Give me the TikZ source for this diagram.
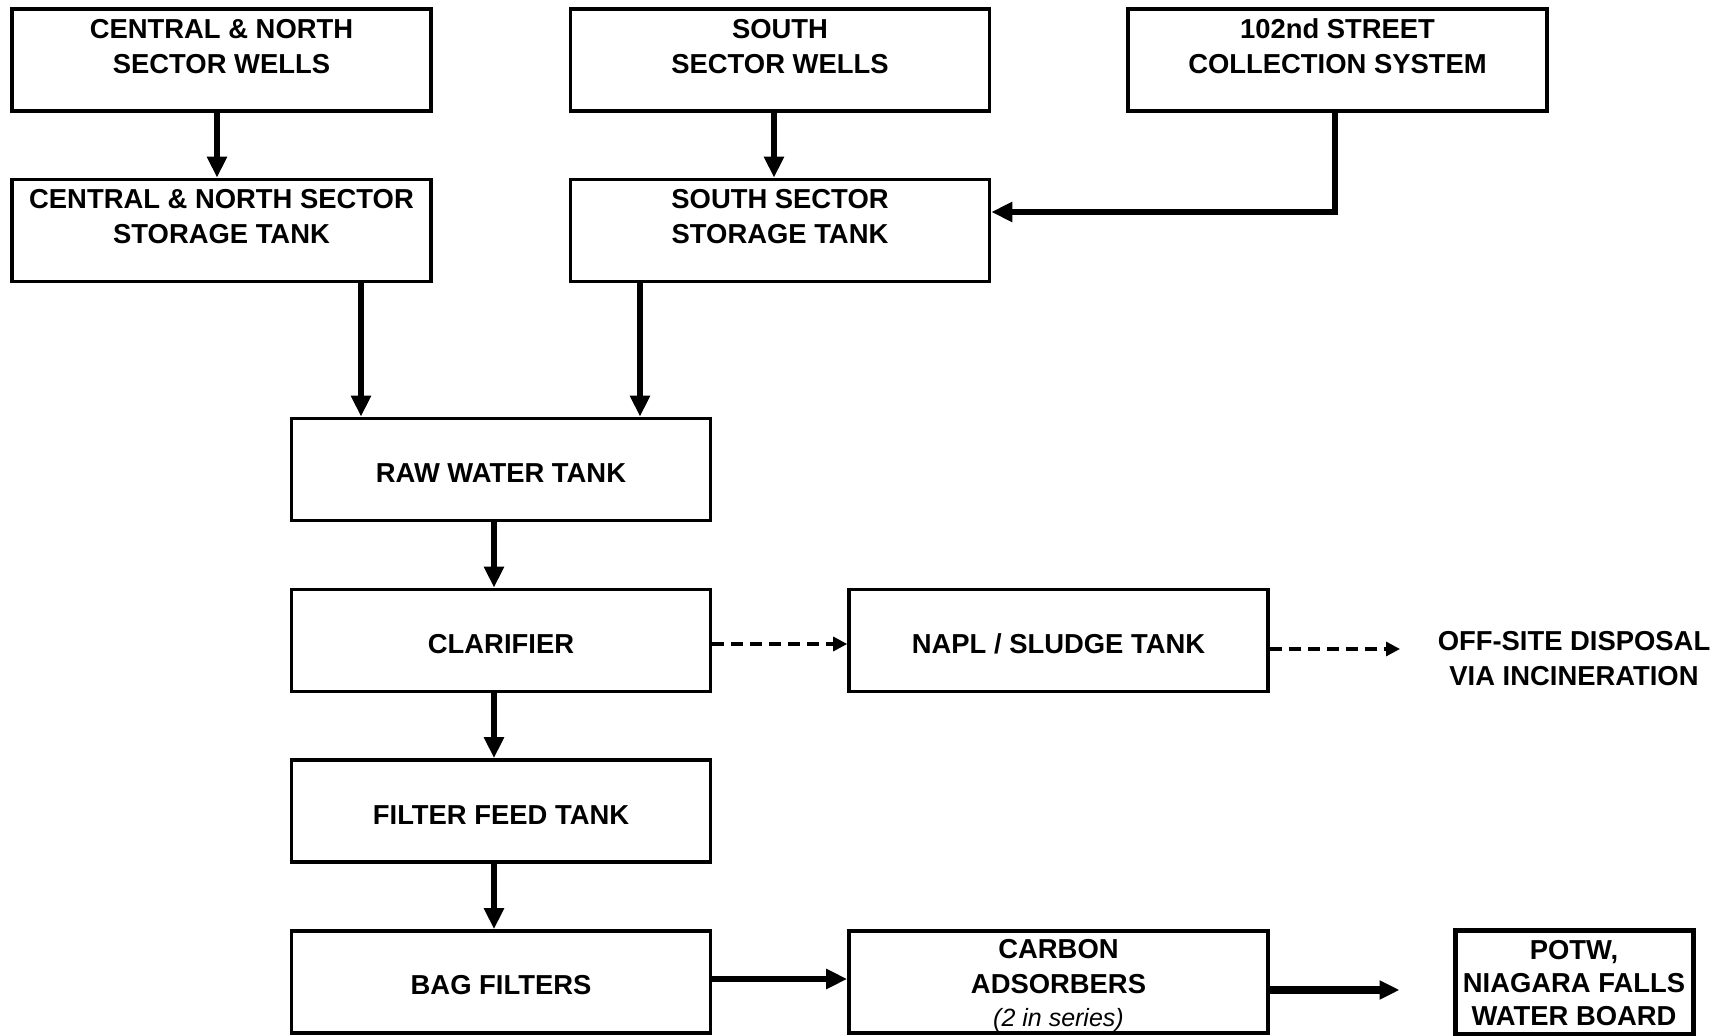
\documentclass[tikz,border=0pt]{standalone}
\usepackage{fontspec}
\setmainfont{Liberation Sans}
\usetikzlibrary{arrows.meta,calc}
\begin{document}
\begin{tikzpicture}[x=0.5pt,y=-0.5pt,
  box/.style={draw=black,line width=1.8pt,fill=white,inner sep=0pt,minimum width=209.5pt,minimum height=51pt},
  lbl/.style={align=center,inner sep=0pt,font=\bfseries\fontsize{13.7}{17.5}\selectfont},
  arr/.style={line width=2.9pt,-{Triangle[length=10.5pt,width=9.5pt]}},
  dasharr/.style={line width=1.6pt,dash pattern=on 6pt off 3.5pt,-{Triangle[length=7pt,width=7pt]}},
]
\useasboundingbox (0,0) rectangle (1726,1036);
% boxes
\node[box] (cnw) at (221.5,60) {};
\node[box] (cns) at (221.5,230.5) {};
\node[box] (sw) at (780,60) {};
\node[box] (ss) at (780,230.5) {};
\node[box] (c102) at (1337.5,60) {};
\node[box] (raw) at (501,469.5) {};
\node[box] (clar) at (501,640.5) {};
\node[box] (ff) at (501,811) {};
\node[box] (bag) at (501,982) {};
\node[box] (napl) at (1058.5,640.5) {};
\node[box] (carb) at (1058.5,982) {};
\node[draw=black,line width=2.5pt,fill=white,inner sep=0pt,minimum width=119pt,minimum height=52pt] (potw) at (1574,983) {};
% labels
\node[lbl] (cnwt) at (221.5,46.5) {CENTRAL \& NORTH\\SECTOR WELLS};
\node[lbl] (cnst) at (221.5,217) {CENTRAL \& NORTH SECTOR\\STORAGE TANK};
\node[lbl] (swt) at (780,46.5) {SOUTH\\SECTOR WELLS};
\node[lbl] (sst) at (780,217) {SOUTH SECTOR\\STORAGE TANK};
\node[lbl] (c102t) at (1337.5,46.5) {102nd STREET\\COLLECTION SYSTEM};
\node[lbl] (rawt) at (501,473) {RAW WATER TANK};
\node[lbl] (clart) at (501,644) {CLARIFIER};
\node[lbl] (fft) at (501,815) {FILTER FEED TANK};
\node[lbl] (bagt) at (501,985) {BAG FILTERS};
\node[lbl] (naplt) at (1058.5,644) {NAPL / SLUDGE TANK};
\node[lbl,anchor=base] (carbt1) at (1058.5,959) {CARBON};
\node[lbl,anchor=base] (carbt2) at (1058.5,994) {ADSORBERS};
\node[align=center,inner sep=0pt,font=\itshape\fontsize{12.5}{15}\selectfont,anchor=base] (carbt3) at (1058.5,1027) {(2 in series)};
\node[lbl,font=\bfseries\fontsize{13.7}{16.5}\selectfont] (potwt) at (1574,983) {POTW,\\NIAGARA FALLS\\WATER BOARD};
\node[lbl] (offt) at (1574,659) {OFF-SITE DISPOSAL\\VIA INCINERATION};
\coordinate (offin) at (1400,649);
% connectors
\draw[arr] (cnw.south -| 217,0) -- (cns.north -| 217,0);
\draw[arr] (sw.south -| 774,0) -- (ss.north -| 774,0);
\draw[arr] (c102.south -| 1335,0) |- ($(ss.east)+(0,-18.5)$);
\draw[arr] (cns.south -| 361,0) -- (raw.north -| 361,0);
\draw[arr] (ss.south -| 640,0) -- (raw.north -| 640,0);
\draw[arr] (raw.south -| 494,0) -- (clar.north -| 494,0);
\draw[arr] (clar.south -| 494,0) -- (ff.north -| 494,0);
\draw[arr] (ff.south -| 494,0) -- (bag.north -| 494,0);
\draw[dasharr] (clar.east |- 0,644) -- (napl.west |- 0,644);
\draw[dasharr] (napl.east |- 0,649) -- (offin);
\draw[arr] (bag.east |- 0,979) -- (carb.west |- 0,979);
\draw[line width=3.8pt,-{Triangle[length=10pt,width=9pt]},shorten >=26.5pt] (carb.east |- 0,990) -- (potw.west |- 0,990);
\end{tikzpicture}
\end{document}
